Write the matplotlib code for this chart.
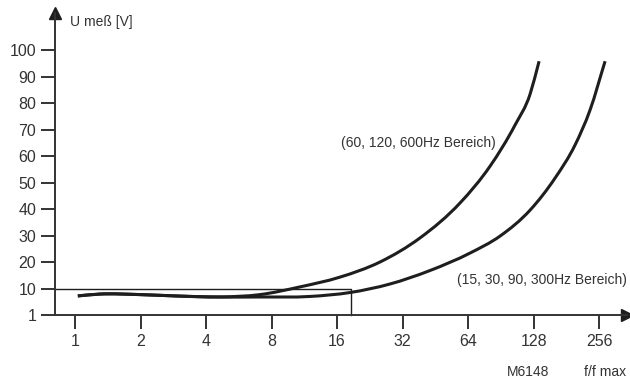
"""
Messspannung ueber Frequenzverhaeltnis (M6148), zwei Frequenzbereiche.
"""

import numpy as np
import matplotlib
matplotlib.use("Agg")
import matplotlib.pyplot as plt
from matplotlib.path import Path
from matplotlib.patches import PathPatch

plt.rcParams["font.family"] = ["Liberation Sans", "DejaVu Sans"]

# --- data -----------------------------------------------------------------
x_ticks = [1, 2, 4, 8, 16, 32, 64, 128, 256]
y_ticks = [0, 10, 20, 30, 40, 50, 60, 70, 80, 90, 100]
y_tick_labels = ["1", "10", "20", "30", "40", "50", "60", "70", "80", "90", "100"]

# 60, 120, 600 Hz range
f_a = [1.03, 1.30, 1.99, 2.88, 4.64, 7.08, 10.8, 16.5, 25.2, 38.5,
       58.8, 80.8, 105.2, 123.4, 135.7]
u_a = [7.2, 7.9, 7.7, 7.2, 6.8, 7.7, 10.6, 14.3, 20.0, 29.1,
       42.3, 56.2, 71.7, 83.4, 95.8]

# 15, 30, 90, 300 Hz range
f_b = [1.03, 1.30, 1.99, 2.88, 4.64, 7.08, 12.0, 18.4, 28.0, 42.8,
       65.4, 89.8, 123.4, 160.7, 198.6, 232.7, 272.8]
u_b = [7.2, 7.9, 7.7, 7.2, 6.8, 6.8, 7.0, 8.5, 11.7, 16.8,
       23.4, 29.8, 39.6, 51.7, 64.2, 77.4, 95.8]

rect_f = 18.5   # right edge of the marked box
rect_u = 10     # top of the marked box

W, H = 630, 381
ink = "#1e1e1e"
txt = "#333333"


def px(x, y):
    """pixel position -> figure fraction"""
    return x / W, 1 - y / H


def smooth_path(f, u):
    # cubic Hermite through the read points (in log2 f), drawn as Bezier segments
    x = np.log2(f)
    y = np.asarray(u, dtype=float)
    h = np.diff(x)
    d = np.diff(y) / h
    m = np.empty_like(y)
    m[0], m[-1] = d[0], d[-1]
    m[1:-1] = (d[:-1] * h[1:] + d[1:] * h[:-1]) / (h[:-1] + h[1:])
    verts, codes = [(x[0], y[0])], [Path.MOVETO]
    for i in range(len(x) - 1):
        verts += [(x[i] + h[i] / 3, y[i] + m[i] * h[i] / 3),
                  (x[i + 1] - h[i] / 3, y[i + 1] - m[i + 1] * h[i] / 3),
                  (x[i + 1], y[i + 1])]
        codes += [Path.CURVE4] * 3
    verts = np.array(verts)
    verts[:, 0] = 2 ** verts[:, 0]
    return Path(verts, codes)


fig = plt.figure(figsize=(W / 100, H / 100), dpi=100)
ax = fig.add_axes([55 / W, 1 - 315 / H, (627 - 55) / W, (315 - 13) / H])

ax.set_xscale("log", base=2)
x0 = 0.809
ax.set_xlim(x0, 344)
ax.set_ylim(0, 114)

# curves
for f, u in [(f_a, u_a), (f_b, u_b)]:
    ax.add_patch(PathPatch(smooth_path(f, u), facecolor="none", edgecolor=ink,
                           lw=2.2, capstyle="butt", joinstyle="round"))

# marked box
ax.plot([x0, rect_f, rect_f], [rect_u, rect_u, 0], color=ink, lw=1.0, clip_on=False)

# axes, ticks
for s in ["top", "right"]:
    ax.spines[s].set_visible(False)
for s in ["left", "bottom"]:
    ax.spines[s].set_linewidth(1.4)
    ax.spines[s].set_color("#333333")

ax.set_xticks(x_ticks)
ax.set_xticklabels([str(v) for v in x_ticks])
ax.minorticks_off()
ax.set_yticks(y_ticks)
ax.set_yticklabels(y_tick_labels)
ax.tick_params(axis="both", direction="out", length=10, width=1.4, color="#333333",
               labelsize=11.5, labelcolor=txt, pad=3.5)

# arrow heads
ax.plot([0], [1], marker="^", markersize=9, color=ink, transform=ax.transAxes, clip_on=False)
ax.plot([1], [0], marker=">", markersize=9, color=ink, transform=ax.transAxes, clip_on=False)

# labels
fs = 10
fig.text(*px(70, 22), "U meß [V]", fontsize=fs, color=txt, va="center", ha="left")
fig.text(*px(496, 143), "(60, 120, 600Hz Bereich)", fontsize=fs, color=txt, va="center", ha="right")
fig.text(*px(627, 280), "(15, 30, 90, 300Hz Bereich)", fontsize=fs, color=txt, va="center", ha="right")
fig.text(*px(507, 372), "M6148", fontsize=fs, color=txt, va="center", ha="left")
fig.text(*px(626, 372), "f/f max", fontsize=fs, color=txt, va="center", ha="right")

fig.savefig("out.png", dpi=100)
